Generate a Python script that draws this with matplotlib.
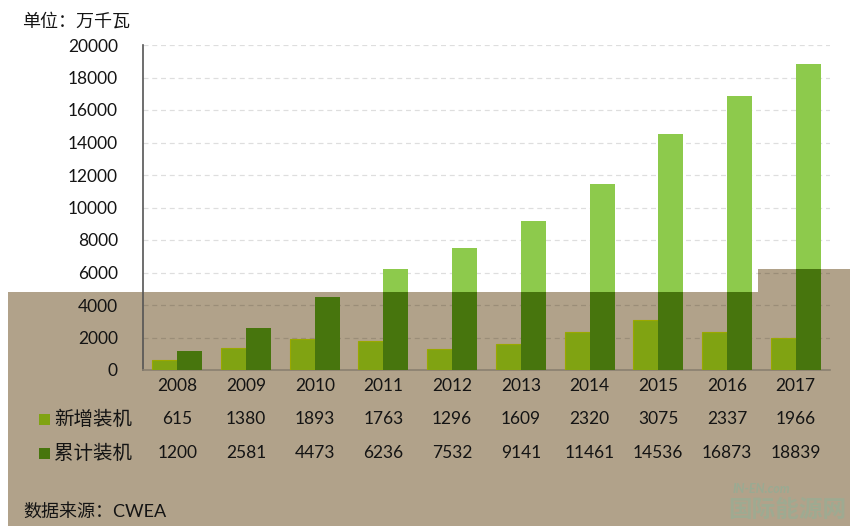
import matplotlib
matplotlib.use("Agg")
import matplotlib.pyplot as plt
from matplotlib.patches import Polygon, Rectangle
from matplotlib.transforms import blended_transform_factory
import numpy as np

plt.rcParams['font.family'] = ['Lato', 'Noto Sans CJK SC', 'DejaVu Sans']

years = ['2008', '2009', '2010', '2011', '2012', '2013', '2014', '2015', '2016', '2017']
new_install = [615, 1380, 1893, 1763, 1296, 1609, 2320, 3075, 2337, 1966]
cum_install = [1200, 2581, 4473, 6236, 7532, 9141, 11461, 14536, 16873, 18839]
series_names = ['新增装机', '累计装机']
y_ticks = list(range(0, 20001, 2000))

W, H = 850, 526
fig = plt.figure(figsize=(W / 100, H / 100), dpi=100)
fig.patch.set_facecolor('white')

def fx(px):
    return px / W

def fy(py):
    return 1 - py / H

# tinted lower region of the reference picture
tan_pts = [(fx(8), fy(292)), (fx(758), fy(292)), (fx(758), fy(269)), (fx(850), fy(269)),
           (fx(850), fy(526)), (fx(8), fy(526))]
top_pts = [(0, 1), (1, 1), (fx(850), fy(269)), (fx(758), fy(269)), (fx(758), fy(292)),
           (fx(8), fy(292)), (fx(8), fy(526)), (0, 0)]
tan = Polygon(tan_pts, closed=True, transform=fig.transFigure, facecolor='#b1a28a',
              edgecolor='none', zorder=-10)
fig.add_artist(tan)
top_clip = Polygon(top_pts, closed=True, transform=fig.transFigure, facecolor='none',
                   edgecolor='none')
low_clip = Polygon(tan_pts, closed=True, transform=fig.transFigure, facecolor='none',
                   edgecolor='none')

ax = fig.add_axes([fx(143), fy(370), fx(830) - fx(143), fy(45) - fy(370)])
ax.set_facecolor('none')

x = np.arange(len(years))
bw = 0.364
b_new = ax.bar(x - bw / 2, new_install, bw, color='#80a312', edgecolor='#9aa800',
               linewidth=0.8, zorder=3)
b_cum_low = ax.bar(x + bw / 2, cum_install, bw, color='#47750d', zorder=3)
b_cum_top = ax.bar(x + bw / 2, cum_install, bw, color='#8dca4c', zorder=3)
for r in b_cum_low:
    r.set_clip_path(low_clip)
for r in b_cum_top:
    r.set_clip_path(top_clip)

ax.set_xlim(-0.5, len(years) - 0.5)
ax.set_ylim(0, 20000)
ax.set_yticks(y_ticks)
ax.set_yticklabels([str(v) for v in y_ticks], fontsize=12.5, color='#141414')
ax.set_xticks(x)
ax.set_xticklabels(years, fontsize=12.5, color='#141414')
ax.tick_params(axis='y', length=0, pad=18)
ax.tick_params(axis='x', length=0, pad=6)
ax.grid(axis='y', linestyle=(0, (4, 3)), color='black', alpha=0.13, linewidth=0.9, zorder=1)
for s in ['top', 'right']:
    ax.spines[s].set_visible(False)
ax.spines['left'].set_color('#555555')
ax.spines['left'].set_linewidth(1.2)
ax.spines['bottom'].set_color('#8a8070')
ax.spines['bottom'].set_linewidth(1.2)

# data table rows
tr = blended_transform_factory(ax.transData, fig.transFigure)
rows = [(new_install, fy(419)), (cum_install, fy(453))]
for vals, yy in rows:
    for xi, v in zip(x, vals):
        ax.text(xi, yy, str(v), transform=tr, ha='center', va='center', fontsize=12.5,
                color='#141414')

leg_colors = ['#80a312', '#47750d']
for name, col, (vals, yy) in zip(series_names, leg_colors, rows):
    fig.add_artist(Rectangle((fx(39), yy - 5.5 / H), 11 / W, 11 / H, transform=fig.transFigure,
                             facecolor=col, edgecolor='none'))
    fig.text(fx(54), yy, name, ha='left', va='center', fontsize=14, color='#141414')

fig.text(fx(22), fy(21), '单位：万千瓦', ha='left', va='center', fontsize=13, color='#141414')
fig.text(fx(23), fy(511), '数据来源：CWEA', ha='left', va='center', fontsize=13, color='#141414')

# watermark
fig.text(fx(733), fy(489), 'IN-EN.com', ha='left', va='center', fontsize=9, color='#8fae96',
         style='italic', fontweight='bold', alpha=0.7)
fig.text(fx(728), fy(509), '国际能源网', ha='left', va='center', fontsize=17, color='#92b096',
         fontweight='bold', alpha=0.6)

fig.savefig('out.png', dpi=100)
